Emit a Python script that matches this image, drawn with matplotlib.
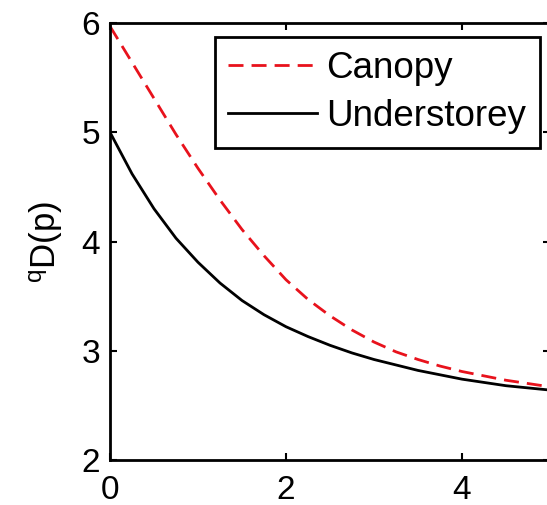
import matplotlib
matplotlib.use('Agg')
import matplotlib.pyplot as plt

plt.rcParams.update({
    'font.family': ['Liberation Sans', 'DejaVu Sans'],
    'font.size': 24,
    'mathtext.default': 'regular',
    'axes.linewidth': 2,
})

# ── Data ─────────────────────────────────────────────────────────────────────
q = [0, 0.25, 0.5, 0.75, 1.0, 1.25, 1.5, 1.75, 2.0, 2.25, 2.5,
     2.75, 3.0, 3.25, 3.5, 3.75, 4.0, 4.25, 4.5, 4.75, 5.0]

canopy = [5.97, 5.64, 5.31, 4.98, 4.67, 4.38, 4.11, 3.87, 3.65, 3.47, 3.32,
          3.19, 3.08, 2.99, 2.92, 2.86, 2.81, 2.77, 2.73, 2.70, 2.67]

understorey = [5.00, 4.62, 4.30, 4.03, 3.81, 3.62, 3.46, 3.33, 3.22, 3.13, 3.05,
               2.98, 2.92, 2.87, 2.82, 2.78, 2.74, 2.71, 2.68, 2.66, 2.64]

xticks = [0, 2, 4]
yticks = [2, 3, 4, 5, 6]

# ── Plot ─────────────────────────────────────────────────────────────────────
fig = plt.figure(figsize=(5.47, 5.05), dpi=100)
ax = fig.add_axes([0.2011, 0.0891, 0.8044, 0.8653])

ax.plot(q, canopy, color='#e8121c', linewidth=2, dashes=(5.4, 2.9), label='Canopy')
ax.plot(q, understorey, color='black', linewidth=2, label='Understorey')

ax.set_xlim(0, 5)
ax.set_ylim(2, 6)
ax.set_xticks(xticks)
ax.set_yticks(yticks)
ax.tick_params(direction='in', length=5, width=1.5, top=True, right=True)
ax.tick_params(axis='x', pad=11)
ax.tick_params(axis='y', pad=7)

ax.set_ylabel('$^{q}$D(p)', fontsize=25, labelpad=12)

leg = ax.legend(loc='upper right', bbox_to_anchor=(0.977, 0.968), borderaxespad=0,
                fontsize=26.5, handlelength=2.4, handletextpad=0.25, borderpad=0.38,
                labelspacing=0.35, fancybox=False, framealpha=1)
leg.get_frame().set_edgecolor('black')
leg.get_frame().set_linewidth(2)

plt.savefig('out.png', dpi=100)
